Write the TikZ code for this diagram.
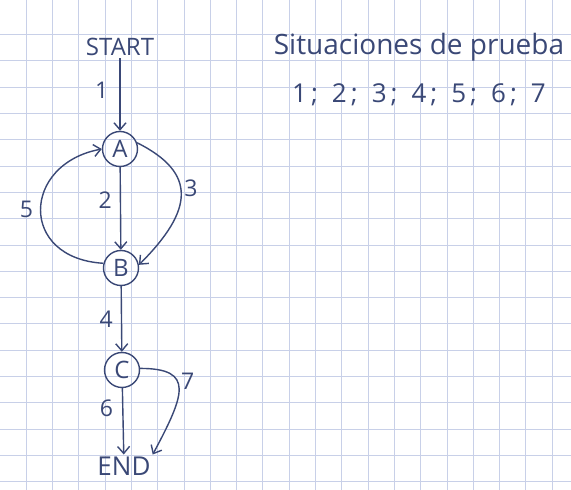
\documentclass[tikz,border=0pt]{standalone}
\usepackage{fontspec}
\setmainfont{Open Sans}
\usetikzlibrary{arrows.meta,positioning}
\definecolor{ink}{RGB}{58,72,118}
\definecolor{gridblue}{RGB}{200,208,232}
\tikzset{
  stn/.style={circle, draw=ink, line width=1.4pt, minimum size=35pt,
              inner sep=0pt, text=ink, font=\fontsize{24}{25}\selectfont},
  term/.style={text=ink, font=\fontsize{24}{26}\selectfont, inner sep=2pt},
  fl/.style={-{Straight Barb[length=7pt,width=12pt,line width=1.4pt]},
             draw=ink, line width=1.4pt},
  lbl/.style={text=ink, font=\fontsize{23}{24}\selectfont, inner sep=1pt},
  note/.style={text=ink, font=\fontsize{28}{30}\selectfont},
  grd/.style={draw=gridblue, line width=0.9pt},
}

\begin{document}
\begin{tikzpicture}[x=1pt,y=1pt]
\useasboundingbox[fill=white] (0,0) rectangle (571,490);
% squared paper
\foreach \gx in {0,...,20}
  \draw[grd] ({26.2+26.3*\gx},0) -- ({26.2+26.3*\gx},490);
\foreach \gy in {0,...,17}
  \draw[grd] (0,{455.4-26.3*\gy}) -- (571,{455.4-26.3*\gy});

\node[term] (start) at (120,443) {START};
\node[stn] (a) at (120,341) {A};
\node[stn] (b) at (121,222) {B};
\node[stn] (c) at (122,120) {C};
\node[term,font=\fontsize{26}{28}\selectfont] (end) at (124,24) {END};
\node[note] (title) at (419,443) {Situaciones de prueba};
\node[note,font=\fontsize{26}{28}\selectfont] (list) at (419,395)
  {1\hspace{4pt};\hspace{14pt}2\hspace{4pt};\hspace{14pt}3\hspace{4pt};\hspace{14pt}4\hspace{4pt};\hspace{14pt}5\hspace{4pt};\hspace{14pt}6\hspace{4pt};\hspace{14pt}7};

\draw[fl] (start) -- node[lbl,left=10pt,pos=0.45]{1} (a);
\draw[fl] (a) -- node[lbl,left=7pt,pos=0.4]{2} (b);
\draw[fl] (a.20) .. controls +(60,-30) and +(55,55) .. node[lbl,right=2pt,pos=0.45]{3} (b.10);
\draw[fl] (b.165) .. controls +(-85,5) and +(-80,-15) .. node[lbl,left=6pt,pos=0.5]{5} (a.180);
\draw[fl] (b) -- node[lbl,left=7pt]{4} (c);
\draw[fl] (c) -- node[lbl,left=8pt,pos=0.3]{6} (end);
\draw[fl] (c.5) .. controls +(55,0) and +(32,60) .. node[lbl,right=2pt,pos=0.4]{7} (end.north east);
\end{tikzpicture}
\end{document}
